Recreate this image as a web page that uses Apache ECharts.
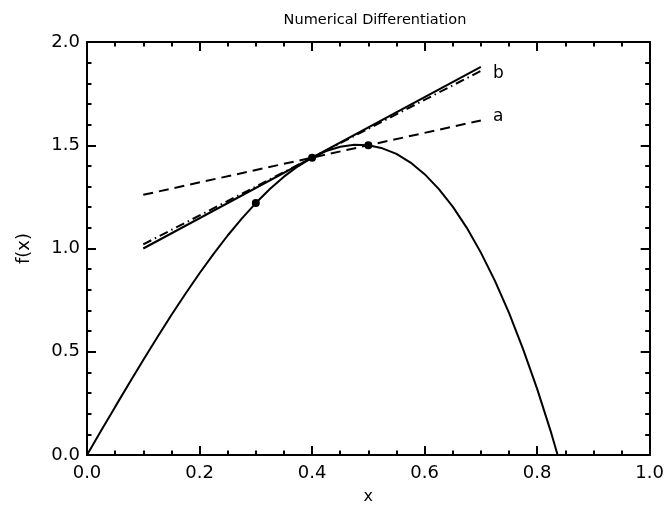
<!DOCTYPE html>
<html>
<head>
<meta charset="utf-8">
<script src="https://cdn.jsdelivr.net/npm/echarts@6/dist/echarts.min.js"></script>
<style>
html, body { margin: 0; padding: 0; background: #fff; }
#main { width: 667px; height: 510px; }
</style>
</head>
<body>
<div id="main"></div>
<script>
// f(x) curve
var curveX = [0, 0.025, 0.05, 0.075, 0.1, 0.125, 0.15, 0.175, 0.2, 0.225, 0.25, 0.275, 0.3, 0.325, 0.35, 0.375,
	0.4, 0.425, 0.45, 0.475, 0.5, 0.525, 0.55, 0.575, 0.6, 0.625, 0.65, 0.675, 0.7, 0.725, 0.75, 0.775, 0.8, 0.825, 0.85];
var curveY = [0, 0.117, 0.233, 0.347, 0.46, 0.57, 0.678, 0.781, 0.88, 0.974, 1.063, 1.145, 1.22, 1.288, 1.348, 1.398,
	1.44, 1.472, 1.493, 1.502, 1.5, 1.485, 1.458, 1.416, 1.36, 1.289, 1.203, 1.1, 0.98, 0.843, 0.688, 0.513, 0.32, 0.107, -0.128];
// sample points
var dotX = [0.3, 0.4, 0.5];
var dotY = [1.22, 1.44, 1.5];
// straight lines: tangent, central (b), forward (a)
var lineX = [0.1, 0.7];
var exactY = [1.0, 1.88];
var centralY = [1.02, 1.86];
var forwardY = [1.26, 1.62];

var xTicks = ['0.0', '0.2', '0.4', '0.6', '0.8', '1.0'];
var yTicks = ['0.0', '0.5', '1.0', '1.5', '2.0'];

function pairs(xs, ys) {
	var out = [];
	for (var i = 0; i < xs.length; i++) out.push([xs[i], ys[i]]);
	return out;
}

var chart = echarts.init(document.getElementById('main'));
var font = 'DejaVu Sans';
var black = '#000';

function axisBase(showLabel, labels, step) {
	return {
		type : 'value',
		axisLine : { show : true, onZero : false, lineStyle : { color : black, width : 2 } },
		axisTick : { show : true, inside : true, length : 9, lineStyle : { color : black, width : 2 } },
		minorTick : { show : true, splitNumber : 4, length : 4.5, lineStyle : { color : black, width : 2 } },
		splitLine : { show : false },
		axisLabel : {
			show : showLabel,
			color : black,
			fontFamily : font,
			fontSize : 18,
			formatter : function (v) { return labels[Math.round(v / step)]; }
		}
	};
}

var xBottom = Object.assign(axisBase(true, xTicks, 0.2), {
	min : 0, max : 1, interval : 0.2, position : 'bottom',
	name : 'x', nameLocation : 'middle', nameGap : 34,
	nameTextStyle : { color : black, fontFamily : font, fontSize : 16 }
});
xBottom.axisLabel.margin = 9;
var xTop = Object.assign(axisBase(false, xTicks, 0.2), { min : 0, max : 1, interval : 0.2, position : 'top' });

var yLeft = Object.assign(axisBase(true, yTicks, 0.5), {
	min : 0, max : 2, interval : 0.5, position : 'left',
	name : 'f(x)', nameLocation : 'middle', nameGap : 54,
	nameTextStyle : { color : black, fontFamily : font, fontSize : 18 }
});
yLeft.minorTick.splitNumber = 5;
yLeft.axisLabel.margin = 7;
var yRight = Object.assign(axisBase(false, yTicks, 0.5), { min : 0, max : 2, interval : 0.5, position : 'right' });
yRight.minorTick.splitNumber = 5;

chart.setOption({
	animation : false,
	title : {
		text : 'Numerical Differentiation',
		left : 370, top : 8, textAlign : 'center',
		textStyle : { color : black, fontFamily : font, fontSize : 14.5, fontWeight : 'normal' }
	},
	grid : { left : 87, right : 16, top : 42, bottom : 49 },
	xAxis : [xBottom, xTop],
	yAxis : [yLeft, yRight],
	series : [
		{
			type : 'line', data : pairs(curveX, curveY), showSymbol : false, clip : true,
			lineStyle : { color : black, width : 2 }
		},
		{
			type : 'line', data : pairs(lineX, exactY), showSymbol : false,
			lineStyle : { color : black, width : 2 }
		},
		{
			type : 'line', data : pairs(lineX, centralY), showSymbol : false,
			lineStyle : { color : black, width : 2, type : [9, 4, 1.5, 4] },
			endLabel : { show : true, formatter : 'b', color : black, fontFamily : font, fontSize : 17, distance : 12, offset : [0, 3] }
		},
		{
			type : 'line', data : pairs(lineX, forwardY), showSymbol : false,
			lineStyle : { color : black, width : 2, type : [10, 6] },
			endLabel : { show : true, formatter : 'a', color : black, fontFamily : font, fontSize : 17, distance : 12, offset : [0, -4] }
		},
		{
			type : 'scatter', data : pairs(dotX, dotY), symbol : 'circle', symbolSize : 8,
			itemStyle : { color : black, opacity : 1 }
		}
	]
});
</script>
</body>
</html>
